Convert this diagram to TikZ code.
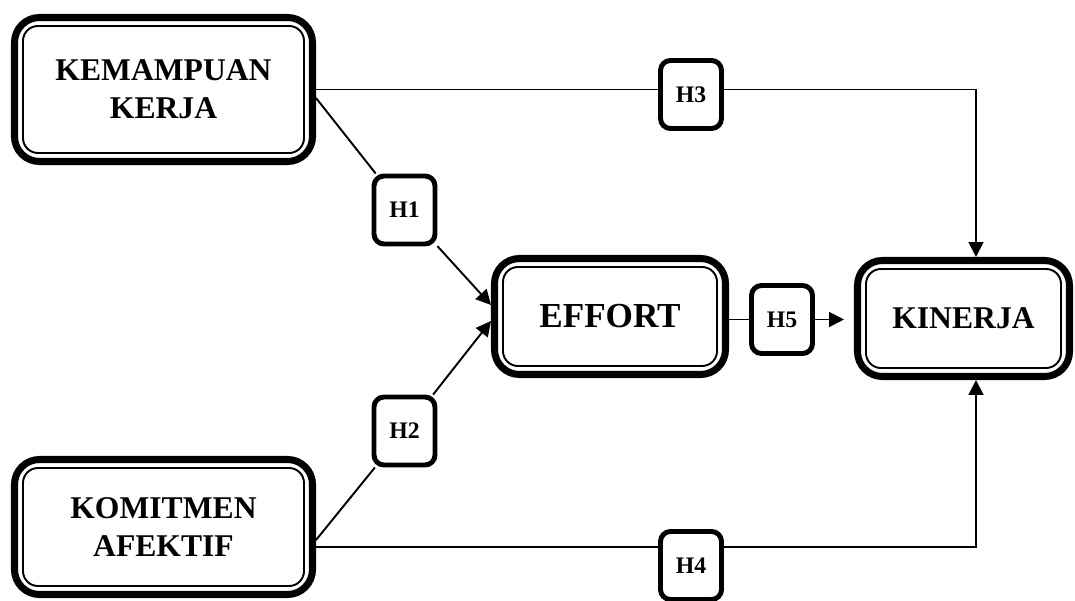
\documentclass[tikz,border=0pt]{standalone}
\usepackage{fontspec}
\setmainfont{Liberation Serif}
\usetikzlibrary{arrows.meta, positioning, calc}

\begin{document}
\begin{tikzpicture}[>={Triangle[length=8.5pt,width=8.5pt]}, line width=1.1pt,
          varbox/.style={draw, line width=4pt, rounded corners=0.5cm,
              inner sep=0pt, align=center,
              font=\fontsize{18}{21.5}\selectfont\bfseries},
          innerline/.style={draw, line width=1.1pt, rounded corners=0.3cm},
          hbox/.style={draw, line width=2.8pt, rounded corners=0.2cm,
              minimum width=1.22cm, minimum height=1.36cm, inner sep=0pt,
              font=\fontsize{13.5}{15}\selectfont\bfseries}]
        \useasboundingbox (0,0) rectangle (21.5,12);
        % variables
        \node[varbox, minimum width=5.96cm, minimum height=2.88cm] (kem)
              at (3.27,10.21) {KEMAMPUAN\\KERJA};
        \node[varbox, minimum width=5.96cm, minimum height=2.7cm] (kom)
              at (3.27,1.46) {KOMITMEN\\AFEKTIF};
        \node[varbox, minimum width=4.62cm, minimum height=2.32cm,
              font=\fontsize{20}{24}\selectfont\bfseries] (eff)
              at (12.2,5.67) {EFFORT};
        \node[varbox, minimum width=4.24cm, minimum height=2.32cm] (kin)
              at (19.27,5.63) {KINERJA};
        \foreach \n in {kem,kom,eff,kin}
          \draw[innerline] ($(\n.south west)+(0.24,0.24)$) rectangle
                           ($(\n.north east)-(0.24,0.24)$);
        % hypotheses
        \node[hbox] (h1) at (8.09,7.8) {H1};
        \node[hbox] (h2) at (8.09,3.38) {H2};
        \node[hbox] (h3) at (13.82,10.11) {H3};
        \node[hbox] (h4) at (13.82,0.69) {H4};
        \node[hbox] (h5) at (15.64,5.61) {H5};
        % end points
        \coordinate (kemD) at ([yshift=-0.17cm]kem.east);
        \coordinate (komD) at ([yshift=-0.26cm]kom.east);
        \coordinate (komR) at ([yshift=-0.4cm]kom.east);
        \coordinate (effA) at ([yshift=0.23cm]eff.west);
        \coordinate (effB) at ([yshift=-0.09cm]eff.west);
        \coordinate (kinT) at ([xshift=0.25cm]kin.north);
        \coordinate (kinB) at ([xshift=0.25cm]kin.south);
        % H1, H2
        \draw (kemD) -- (h1);
        \draw[->] (h1) -- (effA);
        \draw (komD) -- (h2);
        \draw[->] (h2) -- (effB);
        % H3, H4
        \draw (kem.east) -- (kem.east -| h3.west);
        \draw[->] (kem.east -| h3.east) -| (kinT);
        \draw (komR) -- (komR -| h4.west);
        \draw[->] (komR -| h4.east) -| (kinB);
        % H5
        \draw (eff.east |- h5) -- (h5);
        \draw[->, shorten >=0.2cm] (h5) -- (h5 -| kin.west);
\end{tikzpicture}
\end{document}
